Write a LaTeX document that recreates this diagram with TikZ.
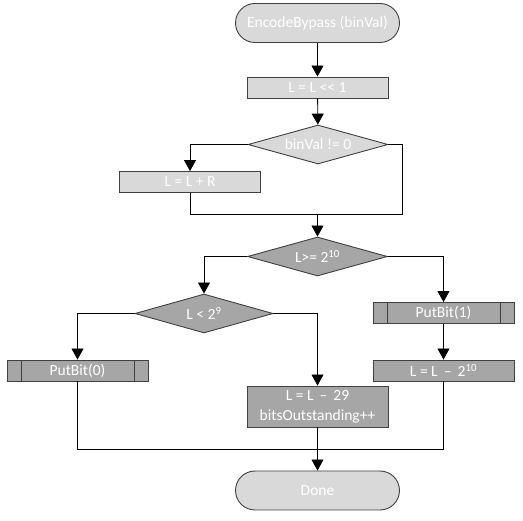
\documentclass[tikz,border=0pt]{standalone}
\usepackage{fontspec}
\setmainfont{Carlito}
\usetikzlibrary{shapes.geometric,arrows.meta}
\definecolor{lightfill}{HTML}{D9D9D9}
\definecolor{darkfill}{HTML}{A6A6A6}
\definecolor{edgegray}{HTML}{404040}
\tikzset{
	base/.style={draw=edgegray, line width=0.9pt, text=white, font=\fontsize{15.5}{20}\selectfont, inner sep=0pt},
	terminal/.style={base, rectangle, rounded corners=19.5pt, minimum width=164pt, minimum height=39pt, fill=lightfill},
	process/.style={base, rectangle, minimum width=141pt, minimum height=21pt},
	decision/.style={base, diamond, aspect=3.6, minimum width=140pt, minimum height=39pt},
	subproc/.style={process, fill=darkfill, path picture={
		\draw[edgegray, line width=0.9pt] ([xshift=14pt]path picture bounding box.north west) -- ([xshift=14pt]path picture bounding box.south west);
		\draw[edgegray, line width=0.9pt] ([xshift=-14pt]path picture bounding box.north east) -- ([xshift=-14pt]path picture bounding box.south east);
	}},
	flow/.style={line width=0.8pt, -{Triangle[width=12pt,length=11pt]}},
	link/.style={line width=0.8pt}
}
\begin{document}
\begin{tikzpicture}[x=1pt, y=-1pt]
	\useasboundingbox (0, 0) rectangle (523, 521);
	\node[terminal] (start) at (317.5, 23) {EncodeBypass (binVal)};
	\node[process, fill=lightfill] (shift) at (317.5, 87.5) {L = L {<}{<} 1};
	\node[decision, fill=lightfill] (binval) at (318, 144.5) {binVal != 0};
	\node[process, fill=lightfill] (addr) at (190, 182) {L = L + R};
	\coordinate (merge) at (317.5, 214);
	\node[decision, fill=darkfill] (geq) at (317.5, 256.5) {L>= 2\textsuperscript{10}};
	\node[decision, fill=darkfill, minimum width=138pt] (lt) at (204, 313.5) {L < 2\textsuperscript{9}};
	\node[subproc] (put1) at (443.5, 313) {PutBit(1)};
	\node[process, fill=darkfill] (sub10) at (443.5, 370.5) {L = L \,–\, 2\textsuperscript{10}};
	\node[subproc] (put0) at (77.5, 370.5) {PutBit(0)};
	\node[process, fill=darkfill, minimum height=41pt, align=center] (sub29) at (317.5, 406.5) {L = L \,–\, 29\\bitsOutstanding++};
	\coordinate (join) at (317.5, 449);
	\node[terminal] (done) at (317.5, 490.5) {Done};

	\draw[flow] (start) -- (shift);
	\draw[flow] (shift) -- (binval);
	\draw[flow] (binval.west) -| (addr.north);
	\draw[link] (binval.east) -- ++(14, 0) |- (merge);
	\draw[link] (addr.south) |- (merge);
	\draw[flow] (merge) -- (geq);
	\draw[flow] (geq.west) -| (lt.north);
	\draw[flow] (geq.east) -| (put1.north);
	\draw[flow] (put1) -- (sub10);
	\draw[flow] (lt.west) -| (put0.north);
	\draw[flow] (lt.east) -| (sub29.north);
	\draw[link] (put0.south) |- (join);
	\draw[link] (sub10.south) |- (join);
	\draw[flow] (sub29) -- (done);

\end{tikzpicture}
\end{document}
